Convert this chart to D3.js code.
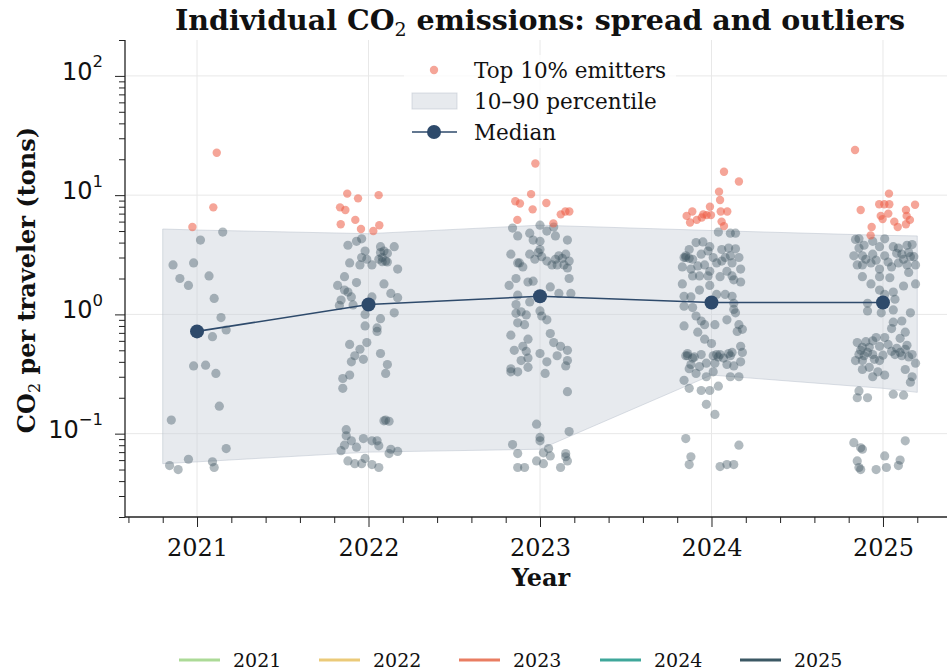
<!DOCTYPE html>
<html><head><meta charset="utf-8">
<script src="https://cdn.jsdelivr.net/npm/d3@7"></script>
<style>body{margin:0;background:#fff}svg{display:block}</style>
</head><body>
<script>
// ---------------- DATA ----------------
const years = [2021, 2022, 2023, 2024, 2025];
const medians = [0.72, 1.21, 1.42, 1.26, 1.26];
const bandX = [2020.8, 2021, 2022, 2023, 2024, 2025, 2025.2];
const p90 = [5.2, 5.1, 4.75, 5.6, 5.05, 4.6, 4.55];
const p10 = [0.056, 0.058, 0.070, 0.074, 0.31, 0.24, 0.222];
const yTicks = [0.1, 1, 10, 100];
const yTickExp = ["\u22121", "0", "1", "2"];
const legendYears = ["2021", "2022", "2023", "2024", "2025"];
const legendColors = ["#a3d68c", "#e9c46a", "#e76f51", "#2a9d8f", "#264653"];

// grey points: [x jitter (years), tons]
const points2021 = [[0.15,4.9],[0.02,4.2],[-0.14,2.6],[-0.02,2.7],[-0.10,2.0],[0.07,2.1],[-0.05,1.75],[0.10,1.36],[0.14,0.94],[0.17,0.74],[0.09,0.65],[-0.02,0.37],[0.05,0.375],[0.11,0.32],[0.13,0.17],[-0.15,0.13],[0.17,0.075],[-0.05,0.061],[-0.16,0.054],[-0.11,0.05],[0.09,0.058],[0.10,0.052]];
const top2021 = [[0.115,22.7],[0.095,7.9],[-0.027,5.4]];

const points2022 = [[-0.12,3.8],[-0.07,4.1],[-0.04,4.3],[0.07,3.7],[0.15,3.7],[-0.02,3.4],[0.09,3.4],[0.11,3.25],[-0.11,2.7],[-0.01,2.9],[-0.05,2.6],[0.02,2.6],[0.08,2.77],[0.11,2.75],[0.17,2.4],[-0.14,2.07],[-0.18,1.75],[-0.07,1.85],[-0.14,1.6],[-0.12,1.54],[-0.10,1.4],[-0.16,1.32],[-0.17,1.19],[-0.09,1.2],[0.09,1.8],[0.13,1.5],[0.17,1.38],[0.02,1.4],[-0.02,1.0],[0.15,1.03],[0.07,0.92],[0.05,0.77],[0.05,0.72],[-0.02,0.8],[-0.11,0.56],[-0.01,0.58],[-0.05,0.51],[-0.08,0.45],[-0.10,0.40],[-0.03,0.42],[0.07,0.47],[0.11,0.38],[0.10,0.32],[-0.11,0.31],[-0.15,0.29],[-0.15,0.24],[0.09,0.128],[0.12,0.127],[0.10,0.13],[-0.13,0.108],[-0.13,0.096],[-0.10,0.087],[-0.03,0.091],[0.02,0.087],[0.05,0.087],[-0.16,0.072],[-0.14,0.080],[-0.07,0.077],[0.06,0.079],[0.13,0.074],[0.17,0.071],[0.12,0.068],[-0.12,0.059],[-0.08,0.056],[-0.02,0.062],[-0.04,0.056],[0.02,0.055],[0.06,0.052],[0.06,2.9],[0.08,3.0],[0.10,2.8],[-0.04,3.0],[0.07,3.3]];
const top2022 = [[-0.124,10.3],[-0.061,9.4],[0.059,10.0],[-0.166,7.9],[-0.135,7.5],[-0.077,6.2],[-0.162,5.7],[-0.044,5.2],[0.028,5.0],[0.063,5.6]];

const points2023 = [[-0.16,5.3],[0.0,5.6],[0.08,5.4],[-0.13,4.55],[-0.06,4.8],[0.04,5.0],[0.09,4.55],[-0.04,4.2],[0.0,4.1],[0.16,4.2],[0.0,3.5],[-0.17,3.2],[-0.06,3.2],[0.01,3.05],[-0.03,2.9],[0.11,3.1],[0.15,3.2],[-0.13,2.7],[-0.12,2.7],[-0.10,2.5],[0.04,2.8],[0.07,2.6],[0.10,2.6],[0.14,2.6],[0.17,2.8],[0.16,2.45],[-0.14,2.0],[-0.18,1.75],[-0.07,1.87],[-0.04,1.9],[0.17,2.0],[0.06,1.7],[-0.13,1.45],[0.11,1.5],[0.18,1.5],[-0.14,1.21],[-0.06,1.27],[-0.14,1.02],[-0.11,1.05],[-0.08,0.99],[-0.13,0.85],[-0.09,0.82],[0.0,1.07],[0.01,0.97],[0.04,0.9],[-0.17,0.67],[0.06,0.69],[-0.07,0.62],[-0.15,0.5],[-0.10,0.54],[0.08,0.58],[0.12,0.54],[0.16,0.5],[-0.08,0.49],[0.0,0.47],[0.10,0.45],[-0.11,0.41],[-0.07,0.43],[0.16,0.41],[0.04,0.40],[-0.17,0.35],[-0.13,0.33],[-0.07,0.36],[0.15,0.37],[0.03,0.32],[-0.17,0.33],[0.16,0.225],[-0.02,0.12],[0.17,0.104],[0.0,0.093],[0.0,0.087],[-0.16,0.081],[0.05,0.075],[-0.13,0.068],[0.02,0.069],[0.06,0.065],[0.15,0.068],[0.15,0.064],[0.16,0.059],[-0.02,0.059],[0.02,0.056],[-0.13,0.052],[-0.09,0.052],[0.12,0.052],[0.09,2.9],[0.13,2.95],[-0.01,3.3]];
const top2023 = [[-0.027,18.4],[-0.052,10.2],[-0.144,8.9],[-0.117,8.5],[-0.043,7.6],[0.037,8.6],[-0.132,6.2],[0.078,5.8],[0.121,6.9],[0.148,7.3],[0.171,7.3]];

const points2024 = [[0.04,4.9],[0.11,4.8],[0.14,4.8],[-0.09,4.0],[-0.05,4.05],[-0.01,3.7],[-0.13,3.5],[0.06,3.5],[0.10,3.6],[0.14,3.55],[-0.16,3.0],[-0.15,3.0],[-0.11,2.9],[-0.06,3.2],[0.01,3.0],[0.08,3.0],[0.16,3.0],[-0.17,2.5],[-0.12,2.4],[-0.04,2.6],[0.03,2.7],[0.12,2.7],[0.17,2.4],[-0.11,2.1],[-0.07,2.1],[-0.02,2.1],[0.05,2.07],[0.12,2.1],[0.17,1.87],[-0.01,1.75],[-0.17,1.8],[0.13,1.95],[0.08,1.47],[0.12,1.42],[-0.16,1.42],[-0.12,1.4],[0.13,1.24],[0.03,1.47],[-0.16,1.17],[-0.11,1.14],[0.14,1.03],[-0.09,0.97],[-0.06,0.88],[-0.04,0.82],[0.02,0.82],[0.09,0.9],[-0.16,0.8],[0.16,0.82],[0.18,0.75],[-0.08,0.71],[0.15,0.72],[-0.04,0.62],[0.0,0.57],[0.17,0.54],[-0.14,0.45],[-0.15,0.45],[-0.11,0.43],[-0.06,0.46],[0.01,0.45],[0.03,0.46],[0.05,0.46],[0.07,0.43],[0.11,0.45],[0.12,0.48],[0.18,0.48],[0.17,0.40],[-0.12,0.38],[-0.07,0.365],[-0.03,0.39],[0.02,0.39],[0.09,0.38],[0.13,0.37],[-0.13,0.35],[-0.09,0.32],[0.01,0.33],[0.11,0.30],[0.16,0.30],[-0.16,0.28],[-0.03,0.30],[-0.13,0.24],[-0.06,0.23],[-0.01,0.23],[0.04,0.25],[-0.03,0.176],[0.02,0.145],[-0.15,0.091],[0.16,0.080],[-0.12,0.064],[-0.13,0.055],[0.05,0.053],[0.09,0.055],[0.13,0.055],[-0.15,3.1],[-0.13,2.95],[0.11,3.1],[-0.02,3.4],[0.06,2.8],[-0.08,2.55],[-0.14,0.47],[0.04,0.44],[0.10,0.47],[-0.10,0.44],[0.13,1.1],[-0.07,1.6],[0.09,2.3],[-0.01,2.3]];
const top2024 = [[0.073,15.7],[0.16,13.0],[0.044,10.7],[0.05,9.1],[-0.009,8.0],[-0.112,7.3],[-0.145,6.7],[-0.048,6.9],[-0.028,6.8],[-0.057,6.5],[-0.086,6.2],[-0.125,5.9],[0.054,7.3],[0.092,7.3],[0.059,6.0],[0.073,5.5],[-0.003,6.8]];

const points2025 = [[-0.16,4.25],[-0.14,4.3],[-0.06,4.1],[0.01,4.3],[-0.11,3.8],[-0.02,3.7],[0.06,3.7],[0.14,3.8],[0.17,3.85],[-0.17,3.1],[-0.12,3.1],[-0.06,3.2],[0.01,3.1],[0.08,3.25],[0.11,3.2],[0.16,3.05],[0.18,3.05],[-0.15,2.6],[-0.12,2.6],[-0.07,2.7],[-0.02,2.4],[0.05,2.5],[0.09,2.7],[0.14,2.6],[0.19,2.6],[0.15,2.25],[-0.12,2.07],[-0.07,1.8],[-0.02,2.07],[0.04,2.03],[0.12,1.73],[0.19,1.8],[-0.02,1.6],[0.01,1.47],[0.06,1.54],[0.07,1.34],[-0.09,1.24],[-0.09,1.07],[-0.01,1.03],[0.06,1.09],[0.16,1.03],[0.06,0.86],[0.11,0.88],[0.05,0.76],[0.13,0.71],[0.10,0.63],[-0.04,0.64],[0.01,0.64],[-0.15,0.58],[-0.12,0.53],[-0.10,0.59],[-0.06,0.6],[-0.08,0.53],[-0.02,0.54],[0.03,0.56],[0.08,0.52],[0.13,0.51],[0.17,0.46],[-0.14,0.46],[-0.11,0.45],[-0.06,0.46],[0.0,0.455],[0.07,0.46],[0.11,0.45],[0.15,0.44],[-0.16,0.41],[-0.12,0.41],[-0.02,0.41],[0.19,0.39],[-0.12,0.345],[-0.08,0.36],[-0.03,0.33],[0.01,0.31],[0.13,0.345],[-0.06,0.30],[0.17,0.30],[0.16,0.27],[-0.14,0.228],[-0.15,0.2],[-0.09,0.2],[0.06,0.214],[0.12,0.21],[-0.17,0.084],[-0.13,0.076],[-0.12,0.074],[0.13,0.087],[0.01,0.065],[-0.15,0.059],[0.10,0.060],[-0.14,0.052],[-0.13,0.05],[-0.04,0.05],[0.02,0.052],[0.09,0.054],[-0.14,3.6],[-0.10,2.9],[0.12,2.9],[0.15,3.3],[0.09,3.6],[-0.04,2.85],[0.03,2.75],[0.10,0.48],[-0.09,0.48],[0.05,0.49],[-0.13,0.5],[0.14,0.55],[-0.05,0.42]];
const top2025 = [[-0.163,23.9],[0.035,10.3],[-0.022,8.4],[0.008,8.4],[0.037,8.4],[-0.13,7.5],[0.187,8.3],[0.134,7.5],[-0.013,6.7],[0.031,7.0],[-0.002,6.3],[0.157,6.2],[0.138,6.7],[0.066,6.0],[0.086,5.4],[0.134,5.7],[-0.066,5.4],[-0.072,4.6]];

const pointsByYear = [points2021, points2022, points2023, points2024, points2025];
const topByYear = [top2021, top2022, top2023, top2024, top2025];

// ---------------- CHART ----------------
const W = 947, H = 671;
const svg = d3.select("body").append("svg").attr("width", W).attr("height", H);
const x = d3.scaleLinear().domain([2020.58, 2025.42]).range([125, 955]);
const y = d3.scaleLog().domain([0.02, 200]).range([517, 40]);
const SERIF = "'DejaVu Serif', serif";
const SANS = "'DejaVu Sans', sans-serif";

// grid
const grid = svg.append("g");
grid.selectAll("line.v").data(years).join("line")
  .attr("x1", d => x(d)).attr("x2", d => x(d)).attr("y1", 40).attr("y2", 517)
  .attr("stroke", "#e8e8e8").attr("stroke-width", 1);
grid.selectAll("line.h").data(yTicks).join("line")
  .attr("x1", 125).attr("x2", W).attr("y1", d => y(d)).attr("y2", d => y(d))
  .attr("stroke", "#e8e8e8").attr("stroke-width", 1);

// band
const bandData = bandX.map((b, i) => ({x: b, lo: p10[i], hi: p90[i]}));
svg.append("path").datum(bandData)
  .attr("d", d3.area().x(d => x(d.x)).y0(d => y(d.lo)).y1(d => y(d.hi)))
  .attr("fill", "#c9d0da").attr("fill-opacity", 0.45)
  .attr("stroke", "#b8c0cb").attr("stroke-opacity", 0.5).attr("stroke-width", 1);

// grey points
const pts = [];
years.forEach((yr, i) => pointsByYear[i].forEach(p => pts.push({x: yr + p[0], v: p[1]})));
svg.append("g").selectAll("circle").data(pts).join("circle")
  .attr("cx", d => x(d.x)).attr("cy", d => y(d.v)).attr("r", 4.6)
  .attr("fill", "#3d5260").attr("fill-opacity", 0.4);

// top emitters
const tops = [];
years.forEach((yr, i) => topByYear[i].forEach(p => tops.push({x: yr + p[0], v: p[1]})));
svg.append("g").selectAll("circle").data(tops).join("circle")
  .attr("cx", d => x(d.x)).attr("cy", d => y(d.v)).attr("r", 4.2)
  .attr("fill", "#ee5e48").attr("fill-opacity", 0.56);

// median
const med = years.map((yr, i) => ({x: yr, v: medians[i]}));
svg.append("path").datum(med)
  .attr("d", d3.line().x(d => x(d.x)).y(d => y(d.v)))
  .attr("fill", "none").attr("stroke", "#2e4a6b").attr("stroke-width", 1.6);
svg.append("g").selectAll("circle").data(med).join("circle")
  .attr("cx", d => x(d.x)).attr("cy", d => y(d.v)).attr("r", 7)
  .attr("fill", "#2e4a6b");

// axes
const xAxis = svg.append("g").attr("transform", "translate(0,517)")
  .call(d3.axisBottom(x).tickValues(years).tickFormat(d3.format("d")).tickSize(10).tickPadding(12));
const minorX = d3.range(2020.6, 2025.41, 0.2).filter(v => Math.abs(v - Math.round(v)) > 0.05);
svg.append("g").attr("transform", "translate(0,517)")
  .call(d3.axisBottom(x).tickValues(minorX).tickFormat("").tickSize(6))
  .call(g => g.select(".domain").remove());
xAxis.select(".domain").attr("d", "M125,0H955").attr("stroke", "#222").attr("stroke-width", 1.3);
xAxis.selectAll(".tick text").attr("font-family", SERIF).attr("font-size", 24).attr("fill", "#111");

const yAxis = svg.append("g").attr("transform", "translate(125,0)")
  .call(d3.axisLeft(y).tickValues(yTicks).tickFormat("").tickSize(10).tickPadding(12));
const minorY = [];
[0.01, 0.1, 1, 10, 100].forEach(dec => { for (let m = 2; m <= 9; m++) { const v = dec * m; if (v >= 0.02 && v <= 200) minorY.push(v); } });
svg.append("g").attr("transform", "translate(125,0)")
  .call(d3.axisLeft(y).tickValues(minorY).tickFormat("").tickSize(6))
  .call(g => g.select(".domain").remove());
yAxis.select(".domain").attr("d", "M0,40V517").attr("stroke", "#222").attr("stroke-width", 1.3);
yAxis.selectAll(".tick text").each(function(d, i) {
  const t = d3.select(this).attr("font-family", SANS).attr("fill", "#111").attr("text-anchor", "end")
    .attr("x", -22).attr("dy", "0.34em");
  t.append("tspan").attr("font-size", 24).text("10");
  t.append("tspan").attr("font-size", 16.5).attr("dy", "-0.75em").text(yTickExp[i]);
});
svg.selectAll(".tick line").attr("stroke", "#222");

// titles
const title = svg.append("text").attr("x", 540).attr("y", 30).attr("text-anchor", "middle")
  .attr("font-family", SERIF).attr("font-weight", "bold").attr("font-size", 28.5).attr("fill", "#111");
title.append("tspan").text("Individual CO");
title.append("tspan").attr("font-size", 19).attr("dy", 6).attr("font-weight", "normal").text("2");
title.append("tspan").attr("dy", -6).text(" emissions: spread and outliers");

svg.append("text").attr("x", 541).attr("y", 586).attr("text-anchor", "middle")
  .attr("font-family", SERIF).attr("font-weight", "bold").attr("font-size", 24).attr("fill", "#111").text("Year");

const yl = svg.append("text").attr("transform", "translate(35,280) rotate(-90)").attr("text-anchor", "middle")
  .attr("font-family", SERIF).attr("font-weight", "bold").attr("font-size", 24).attr("fill", "#111");
yl.append("tspan").text("CO");
yl.append("tspan").attr("font-size", 16).attr("dy", 5).attr("font-weight", "normal").text("2");
yl.append("tspan").attr("dy", -5).text(" per traveler (tons)");

// legend in plot
const lg = svg.append("g");
lg.append("rect").attr("x", 404).attr("y", 55).attr("width", 272).attr("height", 93).attr("fill", "#fff").attr("fill-opacity", 0.8);
lg.append("circle").attr("cx", 434).attr("cy", 70).attr("r", 4.2).attr("fill", "#ee5e48").attr("fill-opacity", 0.56);
lg.append("rect").attr("x", 412).attr("y", 93).attr("width", 45).attr("height", 16)
  .attr("fill", "#c9d0da").attr("fill-opacity", 0.45).attr("stroke", "#b8c0cb").attr("stroke-opacity", 0.5);
lg.append("line").attr("x1", 412).attr("x2", 457).attr("y1", 132).attr("y2", 132).attr("stroke", "#2e4a6b").attr("stroke-width", 1.6);
lg.append("circle").attr("cx", 434).attr("cy", 132).attr("r", 7).attr("fill", "#2e4a6b");
const lgLabels = ["Top 10% emitters", "10\u201390 percentile", "Median"];
lg.selectAll("text").data(lgLabels).join("text")
  .attr("x", 474).attr("y", (d, i) => 70 + i * 31).attr("dy", "0.35em")
  .attr("font-family", SERIF).attr("font-size", 21.5).attr("fill", "#111").text(d => d);

// bottom legend
const bl = svg.append("g");
const blX = [179, 319, 459, 600, 740];
bl.selectAll("line").data(legendYears).join("line")
  .attr("x1", (d, i) => blX[i]).attr("x2", (d, i) => blX[i] + 41).attr("y1", 660).attr("y2", 660)
  .attr("stroke", (d, i) => legendColors[i]).attr("stroke-width", 3.2).attr("stroke-opacity", 0.9);
bl.selectAll("text").data(legendYears).join("text")
  .attr("x", (d, i) => blX[i] + 54).attr("y", 660).attr("dy", "0.35em")
  .attr("font-family", SERIF).attr("font-size", 19).attr("fill", "#111").text(d => d);
</script>
</body></html>
